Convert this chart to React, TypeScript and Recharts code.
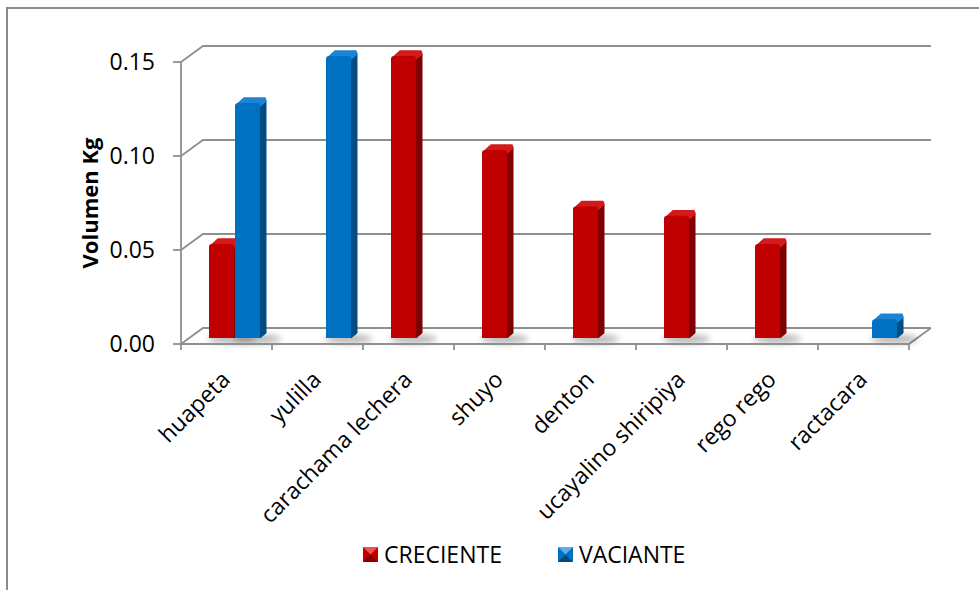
import React from 'react'
import { BarChart, Bar, XAxis, YAxis, CartesianGrid } from 'recharts'

const CATEGORIES = [
  'huapeta',
  'yulilla',
  'carachama lechera',
  'shuyo',
  'denton',
  'ucayalino shiripiya',
  'rego rego',
  'ractacara',
]
const CRECIENTE = [0.05, null, 0.15, 0.1, 0.07, 0.065, 0.05, null]
const VACIANTE = [0.125, 0.15, null, null, null, null, null, 0.01]
const Y_TICKS = [0, 0.05, 0.1, 0.15]

const SERIES = [
  { key: 'creciente', label: 'CRECIENTE', face: '#C00000', side: '#7E0000', top: '#D41A1A', light: '#F05050', dark: '#8A0000' },
  { key: 'vaciante', label: 'VACIANTE', face: '#0070C0', side: '#004C85', top: '#1C84D2', light: '#5AAEEA', dark: '#004A80' },
]

const data = CATEGORIES.map((name, i) => ({
  name,
  creciente: CRECIENTE[i],
  vaciante: VACIANTE[i],
}))

const FONT = "'Open Sans', sans-serif"
const GRID = '#8f8f8f'
// depth of the box: back wall sits up-right of the front plane
const DEPTH_X = 22
const DEPTH_Y = 16
// columns stand a little way into the box
const COL_X = 8
const COL_Y = 6

function makeColumn(face: string, side: string, top: string) {
  return (props: any) => {
    const { x, y, width, height } = props
    if (!height || height <= 0) return null
    const X = x + COL_X
    const Y = y - COL_Y
    const w = width
    const h = height
    const dx = 6
    const dy = 5
    const r = 3
    const front = `M${X},${Y + h}L${X},${Y + r}Q${X},${Y} ${X + r},${Y}L${X + w - r},${Y}Q${X + w},${Y} ${X + w},${Y + r}L${X + w},${Y + h}Z`
    const sidePath = `M${X + w},${Y + h}L${X + w},${Y + r}L${X + w + dx},${Y + r - dy}L${X + w + dx},${Y + h - dy}Z`
    const topPath = `M${X + r},${Y + 0.5}L${X + r + dx},${Y - dy}L${X + w + dx - 1},${Y - dy}L${X + w + dx},${Y - dy + r}L${X + w},${Y + r}L${X + w - r},${Y + 0.5}Z`
    return (
      <g>
        <ellipse cx={X + w / 2 + 10} cy={Y + h + 1} rx={w * 0.95} ry={4.5} fill="#000" opacity={0.28} filter="url(#floorShadow)" />
        <path d={sidePath} fill={side} stroke={side} strokeWidth={1} strokeLinejoin="round" />
        <path d={topPath} fill={top} stroke={top} strokeWidth={1.5} strokeLinejoin="round" />
        <path d={front} fill={face} />
      </g>
    )
  }
}

function GridLine(props: any) {
  const { x1, x2, y1, index } = props
  const backY = y1 - DEPTH_Y
  let d = `M${x1},${y1}L${x1 + DEPTH_X},${backY}L${x2 + DEPTH_X},${backY}`
  if (index === 0 || Math.abs(y1 - 344) < 1) {
    // floor: right edge back to the rear wall
    d += `M${x2},${y1}L${x2 + DEPTH_X},${backY}`
  }
  return <path key={`g-${index}`} d={d} fill="none" stroke={GRID} strokeWidth={1.8} />
}

function CategoryTick(props: any) {
  const { x, y, payload, index } = props
  const half = payload?.offset || 45.5
  const last = index === CATEGORIES.length - 1
  const tx = x + 5
  const ty = y + 31
  return (
    <g>
      <line x1={x - half} y1={y - 6} x2={x - half} y2={y} stroke={GRID} strokeWidth={1.8} />
      {last && <line x1={x + half} y1={y - 6} x2={x + half} y2={y} stroke={GRID} strokeWidth={1.8} />}
      <text
        x={tx}
        y={ty}
        transform={`rotate(-45, ${tx}, ${ty})`}
        textAnchor="end"
        fontFamily={FONT}
        fontSize={23}
        fill="#000"
      >
        {payload.value}
      </text>
    </g>
  )
}

function LegendMarker({ face, light, dark }: { face: string; light: string; dark: string }) {
  return (
    <svg width={15} height={15} style={{ display: 'block' }}>
      <rect x={0} y={0} width={15} height={15} fill={face} />
      <polygon points="0,0 15,0 7.5,7.5" fill={light} />
      <polygon points="0,15 15,15 7.5,7.5" fill={dark} />
    </svg>
  )
}

export default function App() {
  return (
    <div style={{ position: 'fixed', left: 0, top: 0, width: 979, height: 590, background: '#fff', overflow: 'hidden' }}>
      <div
        style={{
          position: 'absolute',
          left: 6,
          top: 7,
          width: 1000,
          height: 620,
          border: '2px solid #8c8c8c',
          boxSizing: 'border-box',
        }}
      />
      <div style={{ position: 'absolute', left: 0, top: 0 }}>
        <BarChart
          width={979}
          height={590}
          data={data}
          margin={{ top: 62, right: 70, bottom: 0, left: 101 }}
          barSize={25}
          barGap={1}
        >
          <defs>
            <filter id="floorShadow" x="-50%" y="-200%" width="200%" height="500%">
              <feGaussianBlur stdDeviation={3} />
            </filter>
          </defs>
          <CartesianGrid horizontal={GridLine} vertical={false} />
          <XAxis
            dataKey="name"
            height={246}
            interval={0}
            tickLine={false}
            tickSize={6}
            tickMargin={0}
            axisLine={{ stroke: GRID, strokeWidth: 1.8 }}
            tick={CategoryTick}
          />
          <YAxis
            width={80}
            domain={[0, 0.15]}
            ticks={Y_TICKS}
            tickFormatter={(v: number) => v.toFixed(2)}
            tickSize={8}
            tickMargin={18}
            axisLine={{ stroke: GRID, strokeWidth: 1.8 }}
            tickLine={{ stroke: GRID, strokeWidth: 1.8 }}
            tick={{ fontFamily: FONT, fontSize: 23, fill: '#000' }}
            label={() => (
              <text
                x={98}
                y={203}
                transform="rotate(-90, 98, 203)"
                textAnchor="middle"
                fontFamily={FONT}
                fontSize={22}
                fontWeight="bold"
                fill="#000"
              >
                Volumen Kg
              </text>
            )}
          />
          {SERIES.map((s) => (
            <Bar
              key={s.key}
              dataKey={s.key}
              name={s.label}
              fill={s.face}
              isAnimationActive={false}
              shape={makeColumn(s.face, s.side, s.top)}
            />
          ))}
        </BarChart>
      </div>
      {/* legend */}
      <div
        style={{
          position: 'absolute',
          left: 363,
          top: 538,
          height: 32,
          display: 'flex',
          alignItems: 'center',
          gap: 56,
          fontFamily: FONT,
          fontSize: 23,
          color: '#000',
        }}
      >
        {SERIES.map((s) => (
          <div key={s.key} style={{ display: 'flex', alignItems: 'center', gap: 6 }}>
            <LegendMarker face={s.face} light={s.light} dark={s.dark} />
            <span style={{ lineHeight: '32px' }}>{s.label}</span>
          </div>
        ))}
      </div>
    </div>
  )
}
